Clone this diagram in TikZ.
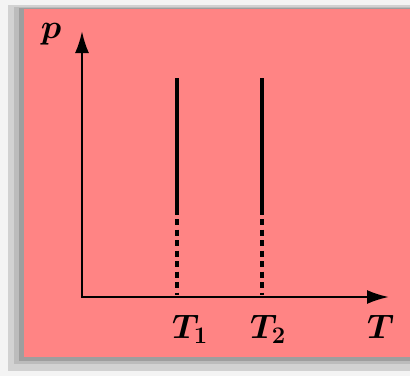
\RequirePackage{fix-cm}
\documentclass[tikz,border=0pt]{standalone}
\usepackage{amsmath}
\usepackage{xcolor}
\definecolor{sheet}{HTML}{FF8484}
\definecolor{paper}{HTML}{F4F4F4}
\definecolor{cardgrey}{HTML}{9E9E9E}
\usepackage{tikz}
\usetikzlibrary{arrows.meta, positioning, calc}

\tikzset{
  axis/.style={line width=2.4pt, -{Latex[length=22pt,width=14pt]}},
  isochore/.style={line width=4.5pt},
  isodots/.style={line width=4.5pt, dash pattern=on 6pt off 4.5pt},
  lbl/.style={inner sep=0pt, font=\fontsize{34}{40}\selectfont\boldmath}
}

\begin{document}
\begin{tikzpicture}[x=1pt,y=1pt]
    \useasboundingbox (0,0) rectangle (410,376);
    \fill[paper] (0,0) rectangle (410,376);
    % soft shadow under the card
    \fill[cardgrey!40!paper] (8,5) rectangle (410,371);
    \fill[cardgrey!65!paper] (14,12) rectangle (410,369);
    \fill[cardgrey] (19,15) rectangle (410,368);
    \fill[sheet] (24,19) rectangle (410,367);

    % axes
    \coordinate (O) at (82,79);
    \coordinate (ytop) at (82,345);
    \coordinate (xend) at (389,79);
    \draw[axis] (O) -- (ytop);
    \draw[axis] ([xshift=-1.2pt]O) -- (xend);

    % two isochores
    \foreach \n/\x in {1/177,2/262}{%
      \coordinate (top\n) at (\x,298);
      \coordinate (mid\n) at (\x,161);
      \coordinate (base\n) at (\x,81);
      \draw[isochore] (top\n) -- (mid\n);
      \draw[isodots] ([yshift=-4pt]mid\n) -- (base\n);
    }

    % labels
    \node[lbl] (plbl) at (51,342) {$p$};
    \node[lbl, anchor=base west] (t1lbl) at (172,38) {$T_1$};
    \node[lbl, anchor=base west] (t2lbl) at (250,38) {$T_2$};
    \node[lbl, anchor=base west] (tlbl) at (367,38) {$T$};
\end{tikzpicture}
\end{document}
